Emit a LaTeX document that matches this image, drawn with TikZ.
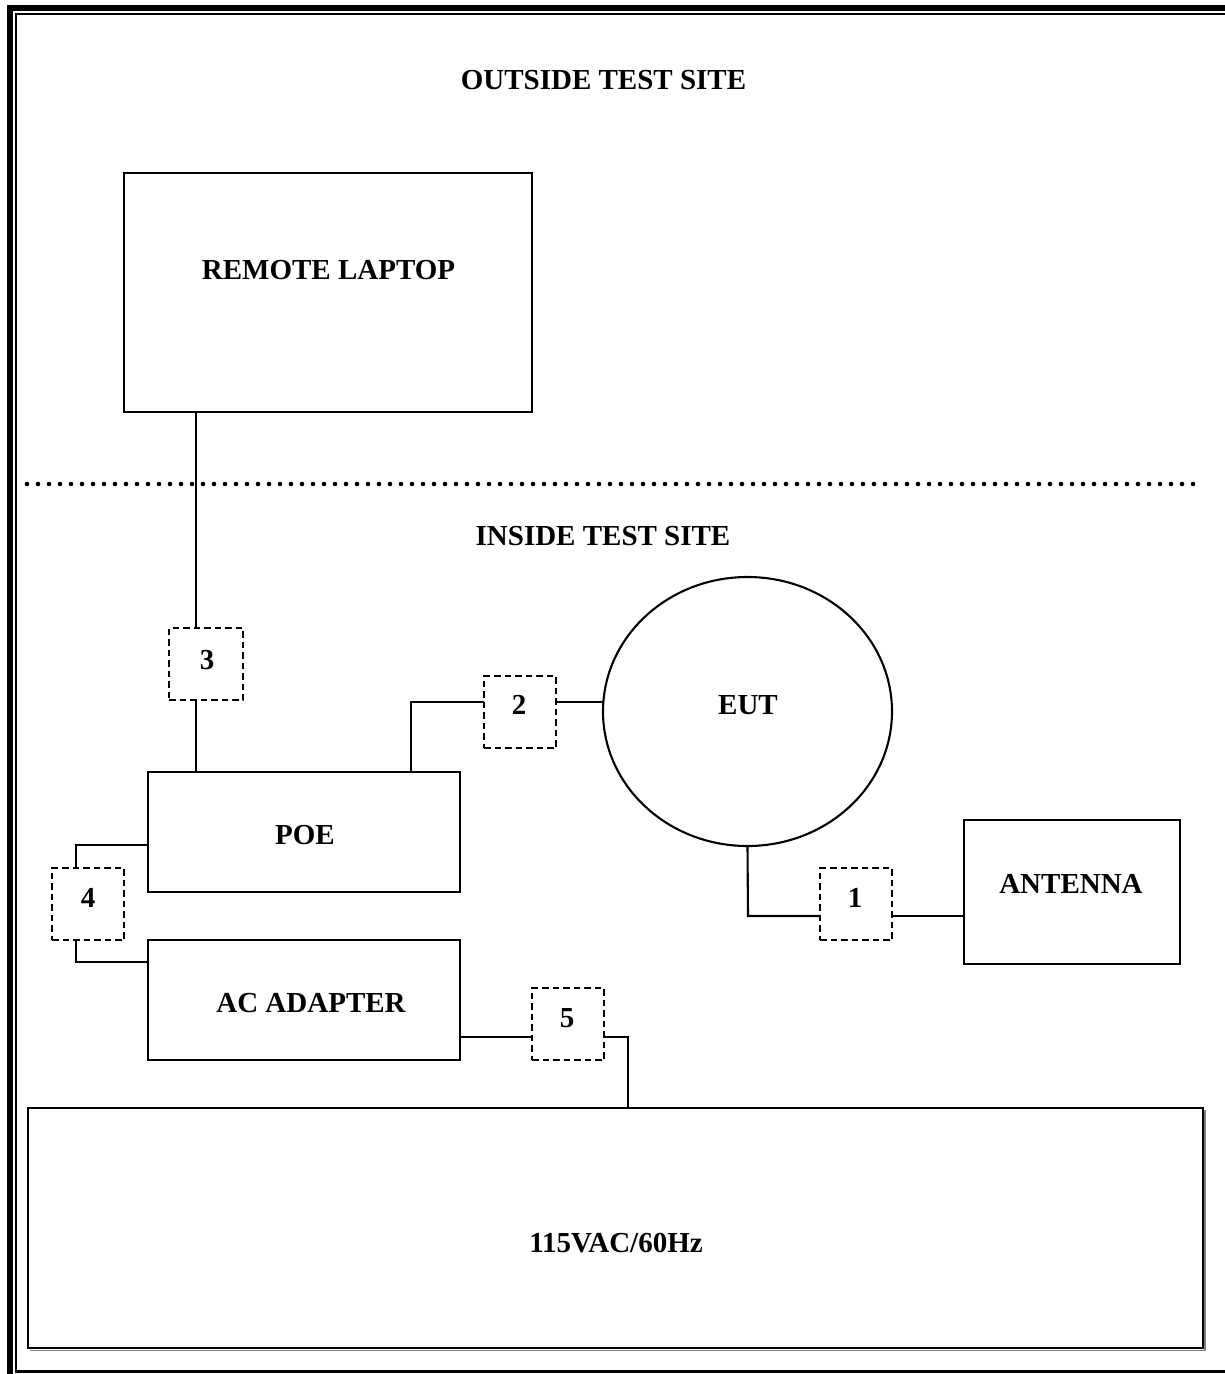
\documentclass[tikz,border=0pt]{standalone}
\usepackage{fontspec}
\setmainfont{Liberation Serif}
\usetikzlibrary{shapes.geometric}
\begin{document}
\begin{tikzpicture}[x=1pt,y=-1pt,
  box/.style={draw, line width=2.1pt, inner sep=0pt, outer sep=0pt, rectangle},
  cbox/.style={draw, line width=1.9pt, dash pattern=on 6.5pt off 4pt, inner sep=0pt, outer sep=0pt, rectangle, minimum width=72pt, minimum height=72pt},
  wire/.style={line width=2.1pt},
  lbl/.style={font=\bfseries\fontsize{29}{34}\selectfont, inner sep=0pt, text height=19pt, text depth=0pt, anchor=center}]
\useasboundingbox (0,0) rectangle (1225,1374);
\fill[white] (0,0) rectangle (1225,1374);
% frame
\draw[line width=6.5pt] (1225,8) -- (6.75,8);
\draw[line width=6.5pt] (10,4.75) -- (10,1374);
\draw[line width=2.2pt] (1225,14) -- (15.7,14) -- (15.7,1371.5) -- (1225,1371.5);
% dotted separator
\draw[line width=4.6pt, line cap=round, dash pattern=on 0pt off 11pt] (27,484) -- (1200,484);
% boxes
\node[box, minimum width=408pt, minimum height=239pt] (laptop) at (328,292.5) {};
\node[cbox, minimum width=74pt] (b3) at (206,664) {};
\node[box, minimum width=312pt, minimum height=120pt] (poe) at (304,832) {};
\node[cbox] (b2) at (520,712) {};
\node[draw, line width=2.1pt, ellipse, inner sep=0pt, outer sep=0pt, minimum width=289pt, minimum height=269pt] (eut) at (747.5,711.5) {};
\node[cbox] (b1) at (856,904) {};
\node[box, minimum width=216pt, minimum height=144pt] (ant) at (1072,892) {};
\node[cbox] (b4) at (88,904) {};
\node[box, minimum width=312pt, minimum height=120pt] (ac) at (304,1000) {};
\node[cbox] (b5) at (568,1024) {};
\draw[gray, line width=1.5pt] (30,1350.3) -- (1204.8,1350.3) -- (1204.8,1110);
\node[box, minimum width=1175pt, minimum height=240pt] (mains) at (615.5,1228) {};
% labels
\node[lbl] (tout) at (603.5,80) {OUTSIDE TEST SITE};
\node[lbl] (tin) at (603,536) {INSIDE TEST SITE};
\node[lbl] (tlap) at (328.5,270) {REMOTE LAPTOP};
\node[lbl] (t3) at (207,660) {3};
\node[lbl] (t2) at (519,705) {2};
\node[lbl] (teut) at (748,705) {EUT};
\node[lbl] (tpoe) at (305,835) {POE};
\node[lbl] (t4) at (88,898) {4};
\node[lbl] (t1) at (855,898) {1};
\node[lbl] (tant) at (1071,884) {ANTENNA};
\node[lbl] (tac) at (311,1003) {AC ADAPTER};
\node[lbl] (t5) at (567,1018) {5};
\node[lbl] (tmain) at (616,1243) {115VAC/60Hz};
% junction coordinates
\coordinate (x3) at (196,0);
\coordinate (j2) at (411,702);
\coordinate (j1) at (748,916);
\coordinate (j4a) at (76,845);
\coordinate (j4b) at (76,962);
\coordinate (j5) at (628,1037);
% connectors
\draw[wire] (laptop.south -| x3) -- (b3.north -| x3);
\draw[wire] (b3.south -| x3) -- (poe.north -| x3);
\draw[wire] (poe.north -| j2) -- (j2) -- (b2.west |- j2);
\draw[wire] (b2.east |- j2) -- (eut.west |- j2);
\draw[wire] (eut.south) -- (j1) -- (b1.west |- j1);
\draw[wire] (b1.east |- j1) -- (ant.west |- j1);
\draw[wire] (poe.west |- j4a) -- (j4a) -- (b4.north -| j4a);
\draw[wire] (b4.south -| j4b) -- (j4b) -- (ac.west |- j4b);
\draw[wire] (ac.east |- j5) -- (b5.west |- j5);
\draw[wire] (b5.east |- j5) -- (j5) -- (mains.north -| j5);
\end{tikzpicture}
\end{document}
